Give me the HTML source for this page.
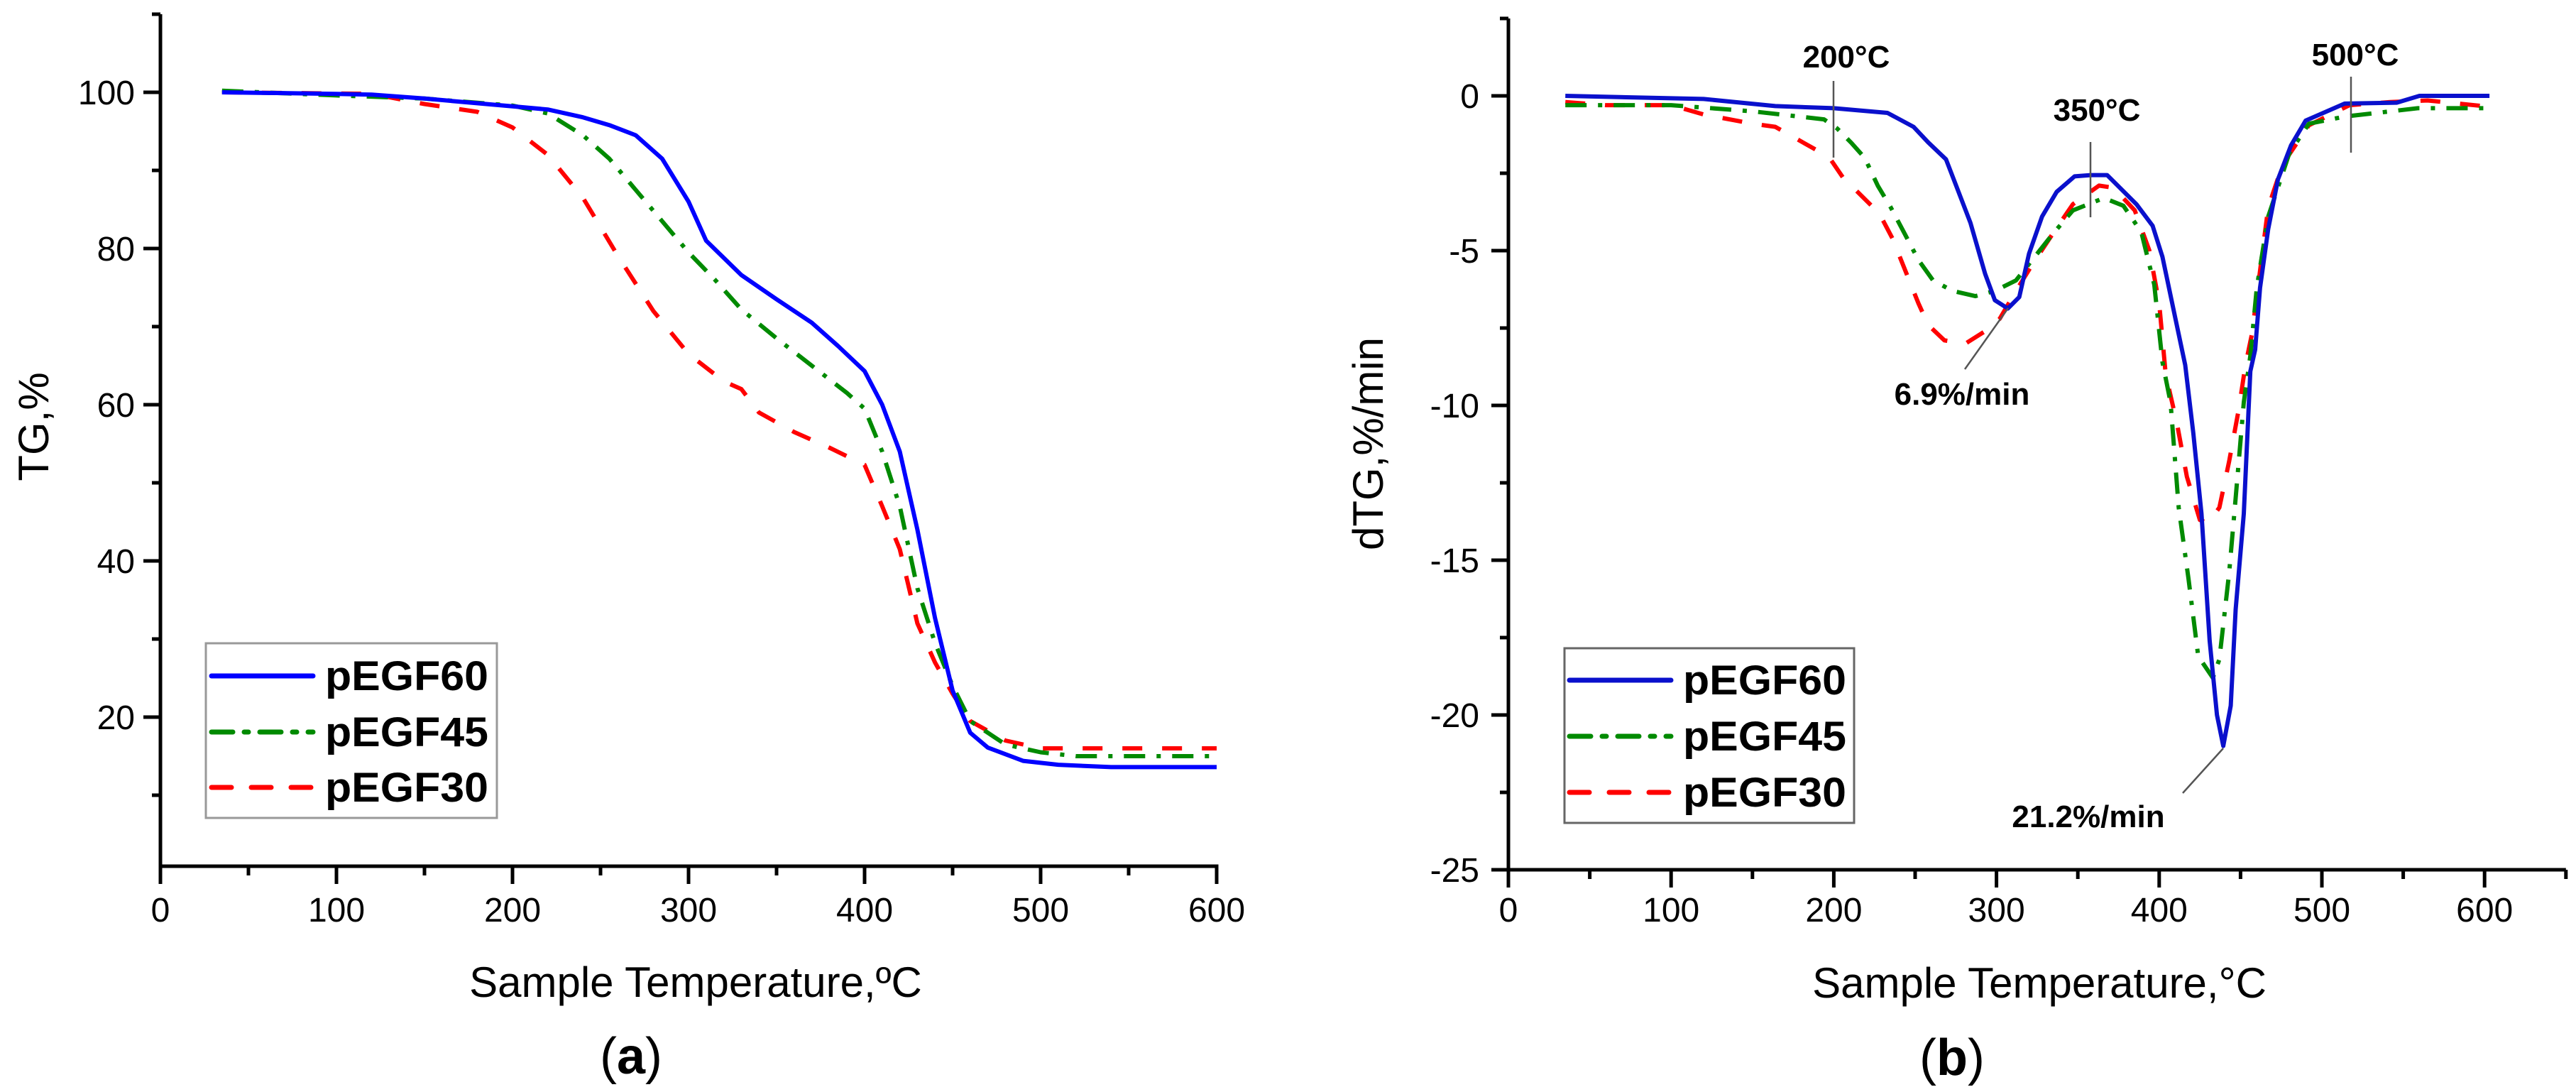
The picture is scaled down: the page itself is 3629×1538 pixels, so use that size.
<!DOCTYPE html>
<html><head><meta charset="utf-8">
<style>
html,body{margin:0;padding:0;background:#fff;}
svg{display:block;}
text{font-family:"Liberation Sans",Arial,sans-serif;}
</style></head>
<body>
<svg id="fig" width="3629" height="1538" viewBox="0 0 3629 1538" xmlns="http://www.w3.org/2000/svg">
<rect x="0" y="0" width="3629" height="1538" fill="#fff"/>
<g id="chartA"></g>
<g id="chartB"></g>
</svg>
<script>
// ---------- Chart (a) TG data ----------
const tgX60 = [35,100,120,150,200,220,240,255,270,285,300,310,330,350,370,385,400,410,420,430,440,450,460,470,490,510,540,600];
const tgY60 = [100,99.8,99.7,99.2,98.2,97.8,96.8,95.8,94.5,91.5,86,81,76.6,73.5,70.5,67.5,64.3,60,54,44,32.7,23.4,18,16.1,14.4,13.9,13.6,13.6];
const tgX45 = [35,100,150,200,220,240,255,270,285,300,315,330,350,370,390,400,410,420,430,440,450,460,480,500,520,600];
const tgY45 = [100.2,99.6,99.2,98.3,97.3,94.5,91.5,87.5,83.5,79.5,76,72.2,68.5,65,61.5,59.5,54,47,36.5,29.5,24,19.5,16.5,15.5,15,15];
const tgX30 = [35,120,150,180,200,220,240,260,280,300,320,330,340,360,380,400,410,420,430,440,450,460,480,500,600];
const tgY30 = [100,99.8,98.5,97.5,95.5,92,86.5,79,72,66.5,63,62,59,56.5,54.5,52.3,47,41.5,32,27,23,19.5,17,16,16];
const tgXTicks = [0,100,200,300,400,500,600];
const tgYTicks = [20,40,60,80,100];

// ---------- Chart (b) dTG data ----------
const dtgX60 = [35,120,164,200,233,249,258,269,284,293,299,307,314,320,328,337,348,358,368,386,396,402,410,416,421,426,431,435.5,439.4,444,447,452,456,459,462,467,473,481,490,514,546,560,603];
const dtgY60 = [0,-0.1,-0.33,-0.4,-0.55,-1.0,-1.5,-2.05,-4.1,-5.75,-6.6,-6.87,-6.5,-5.1,-3.9,-3.1,-2.6,-2.56,-2.56,-3.5,-4.2,-5.2,-7.2,-8.7,-10.9,-13.5,-17.6,-20,-21.0,-19.7,-16.6,-13.5,-8.9,-8.2,-6.2,-4.3,-2.7,-1.6,-0.8,-0.25,-0.22,0,0];
const dtgX45 = [35,100,150,194,202,211,219,227,235,243,252,261,273,287,299,312,322,334,347,366,378,389,397,402,407,412,418,424,433,437,443,447,452,456,460,467,480,492,514,559,603];
const dtgY45 = [-0.3,-0.3,-0.5,-0.76,-1.05,-1.53,-2.0,-2.9,-3.6,-4.4,-5.3,-5.96,-6.3,-6.47,-6.3,-5.96,-5.3,-4.5,-3.7,-3.3,-3.55,-4.4,-6.1,-8.6,-9.9,-13.3,-15.6,-18.1,-18.8,-18.2,-15.4,-13,-9.9,-8.4,-6.2,-3.9,-1.85,-0.9,-0.67,-0.4,-0.4];
const dtgX30 = [35,60,100,120,150,164,189,198,206,214,228,236,244,252,258,268,281,293,302,312,322,334,347,363,372,385,394,400,404,411,417,425,430,437,443,449,453,457,467,476,492,517,542,565,603];
const dtgY30 = [-0.2,-0.3,-0.3,-0.6,-0.9,-1.0,-1.74,-2.05,-2.67,-3.07,-3.8,-4.6,-5.65,-6.7,-7.4,-7.9,-8.0,-7.6,-7.2,-6.3,-5.45,-4.5,-3.5,-2.9,-2.97,-3.7,-5.0,-6.7,-9.0,-10.6,-12.3,-13.7,-13.8,-13.3,-11.8,-10.1,-8.7,-7.7,-3.6,-2.2,-0.95,-0.3,-0.2,-0.15,-0.35];
const dtgXTicks = [0,100,200,300,400,500,600];
const dtgYTicks = [0,-5,-10,-15,-20,-25];

const NS = 'http://www.w3.org/2000/svg';
function mk(parent, tag, attrs, txt){
  const e = document.createElementNS(NS, tag);
  for (const k in attrs) e.setAttribute(k, attrs[k]);
  if (txt !== undefined) e.textContent = txt;
  parent.appendChild(e);
  return e;
}
function pathD(xs, ys, sx, sy){
  return xs.map((x,i)=>(i?'L':'M')+sx(x).toFixed(1)+' '+sy(ys[i]).toFixed(1)).join(' ');
}

// ---------- Chart A ----------
(function(){
  const g = document.getElementById('chartA');
  const sx = v => 226 + v*2.48;
  const sy = v => 130 + (100 - v)*11.0;
  const axL = 226, axB = 1220, axT = 20, axR = sx(600);
  // series
  const series = [
    {xs:tgX60, ys:tgY60, c:'#0000ff', dash:'', name:'series-pegf60'},
    {xs:tgX45, ys:tgY45, c:'#008a00', dash:'30 16 6 16', name:'series-pegf45'},
    {xs:tgX30, ys:tgY30, c:'#ff0000', dash:'28 28', name:'series-pegf30'}
  ];
  series.slice().reverse().forEach(s=>{
    const p = mk(g,'path',{d:pathD(s.xs,s.ys,sx,sy),fill:'none',stroke:s.c,'stroke-width':6,'stroke-dasharray':s.dash,'stroke-linejoin':'round'});
    
    
  });
  // axes
  const ax = mk(g,'path',{d:`M${axL} ${axT} L${axL} ${axB} L${axR} ${axB} L${axR} ${axB+25}`,fill:'none',stroke:'#000','stroke-width':5});
  
  
  tgXTicks.forEach(t=>{
    mk(g,'line',{x1:sx(t),x2:sx(t),y1:axB,y2:axB+25,stroke:'#000','stroke-width':5});
    const lb = mk(g,'text',{x:sx(t),y:1298,'font-size':48,'text-anchor':'middle'},String(t));
    
    
    if (t<600) mk(g,'line',{x1:sx(t+50),x2:sx(t+50),y1:axB,y2:axB+13,stroke:'#000','stroke-width':5});
  });
  tgYTicks.forEach(t=>{
    mk(g,'line',{x1:axL-24,x2:axL,y1:sy(t),y2:sy(t),stroke:'#000','stroke-width':5});
    const lb = mk(g,'text',{x:190,y:sy(t)+17,'font-size':48,'text-anchor':'end'},String(t));
    
    
  });
  [10,30,50,70,90,110].forEach(t=>mk(g,'line',{x1:axL-12,x2:axL,y1:sy(t),y2:sy(t),stroke:'#000','stroke-width':5}));
  const xt = mk(g,'text',{x:980,y:1404,'font-size':60,'text-anchor':'middle'},'Sample Temperature,ºC');
  
  
  const yt = mk(g,'text',{x:0,y:0,'font-size':60,'text-anchor':'middle',transform:'translate(68,601) rotate(-90)'},'TG,%');
  
  
  const pl = mk(g,'text',{x:889,y:1512,'font-size':72,'text-anchor':'middle','font-family':'Liberation Serif, serif'});
  pl.innerHTML = '(<tspan font-weight="bold">a</tspan>)';
  
  
  // legend
  const lg = mk(g,'g',{});
  
  
  mk(lg,'rect',{x:290,y:906,width:410,height:246,fill:'#fff',stroke:'#999','stroke-width':3});
  const labs = ['pEGF60','pEGF45','pEGF30'];
  [952,1031,1109].forEach((y,i)=>{
    mk(lg,'line',{x1:298,x2:441,y1:y,y2:y,stroke:series[i].c,'stroke-width':7,'stroke-dasharray':series[i].dash,'stroke-linecap':'round'});
    const t = mk(lg,'text',{x:458,y:y+20,'font-size':58,'font-weight':'bold',textLength:230,lengthAdjust:'spacingAndGlyphs'},labs[i]);
    
    
  });
})();

// ---------- Chart B ----------
(function(){
  const g = document.getElementById('chartB');
  const sx = v => 2125 + v*2.292;
  const sy = v => 135 - v*43.6;
  const axL = 2125, axB = sy(-25), axT = sy(2.5), axR = sx(650);
  const series = [
    {xs:dtgX60, ys:dtgY60, c:'#0a10cc', dash:'', name:'series-pegf60'},
    {xs:dtgX45, ys:dtgY45, c:'#008a00', dash:'30 16 6 16', name:'series-pegf45'},
    {xs:dtgX30, ys:dtgY30, c:'#ff0000', dash:'28 28', name:'series-pegf30'}
  ];
  series.slice().reverse().forEach(s=>{
    const p = mk(g,'path',{d:pathD(s.xs,s.ys,sx,sy),fill:'none',stroke:s.c,'stroke-width':6,'stroke-dasharray':s.dash,'stroke-linejoin':'round'});
    
    
  });
  const ax = mk(g,'path',{d:`M${axL} ${axT} L${axL} ${axB} L${axR} ${axB}`,fill:'none',stroke:'#000','stroke-width':5});
  
  
  dtgXTicks.forEach(t=>{
    mk(g,'line',{x1:sx(t),x2:sx(t),y1:axB,y2:axB+25,stroke:'#000','stroke-width':5});
    mk(g,'line',{x1:sx(t+50),x2:sx(t+50),y1:axB,y2:axB+13,stroke:'#000','stroke-width':5});
    const lb = mk(g,'text',{x:sx(t),y:1298,'font-size':48,'text-anchor':'middle'},String(t));
    
    
  });
  dtgYTicks.forEach(t=>{
    mk(g,'line',{x1:axL-24,x2:axL,y1:sy(t),y2:sy(t),stroke:'#000','stroke-width':5});
    if (t+2.5<=2.5) mk(g,'line',{x1:axL-12,x2:axL,y1:sy(t+2.5),y2:sy(t+2.5),stroke:'#000','stroke-width':5});
    const lb = mk(g,'text',{x:2084,y:sy(t)+17,'font-size':48,'text-anchor':'end'},t<0?'-'+Math.abs(t):String(t));
    
    
  });
  const xt = mk(g,'text',{x:2873,y:1405,'font-size':60,'text-anchor':'middle'},'Sample Temperature,°C');
  
  
  const yt = mk(g,'text',{x:0,y:0,'font-size':60,'text-anchor':'middle',transform:'translate(1948,625) rotate(-90)'},'dTG,%/min');
  
  
  const pl = mk(g,'text',{x:2750,y:1514,'font-size':72,'text-anchor':'middle','font-family':'Liberation Serif, serif'});
  pl.innerHTML = '(<tspan font-weight="bold">b</tspan>)';
  
  
  // annotations
  const ann = [
    {t:'200°C', x:2601, y:95, l:[2583,114,2583,222]},
    {t:'350°C', x:2954, y:170, l:[2945,200,2945,306]},
    {t:'500°C', x:3318, y:92, l:[3312,108,3312,215]},
    {t:'6.9%/min', x:2764, y:570, l:[2829,434,2768,520]},
    {t:'21.2%/min', x:2942, y:1165, l:[3132,1054,3075,1117]}
  ];
  ann.forEach(a=>{
    mk(g,'line',{x1:a.l[0],y1:a.l[1],x2:a.l[2],y2:a.l[3],stroke:'#555','stroke-width':2.5});
    const t = mk(g,'text',{x:a.x,y:a.y,'font-size':44,'font-weight':'bold','text-anchor':'middle'},a.t);
    
    
  });
  const lg = mk(g,'g',{});
  
  
  mk(lg,'rect',{x:2204,y:913,width:408,height:246,fill:'#fff',stroke:'#666','stroke-width':3});
  const labs = ['pEGF60','pEGF45','pEGF30'];
  [958,1037,1116].forEach((y,i)=>{
    mk(lg,'line',{x1:2211,x2:2354,y1:y,y2:y,stroke:series[i].c,'stroke-width':7,'stroke-dasharray':series[i].dash,'stroke-linecap':'round'});
    const t = mk(lg,'text',{x:2371,y:y+20,'font-size':58,'font-weight':'bold',textLength:230,lengthAdjust:'spacingAndGlyphs'},labs[i]);
    
    
  });
})();
</script>
</body></html>
